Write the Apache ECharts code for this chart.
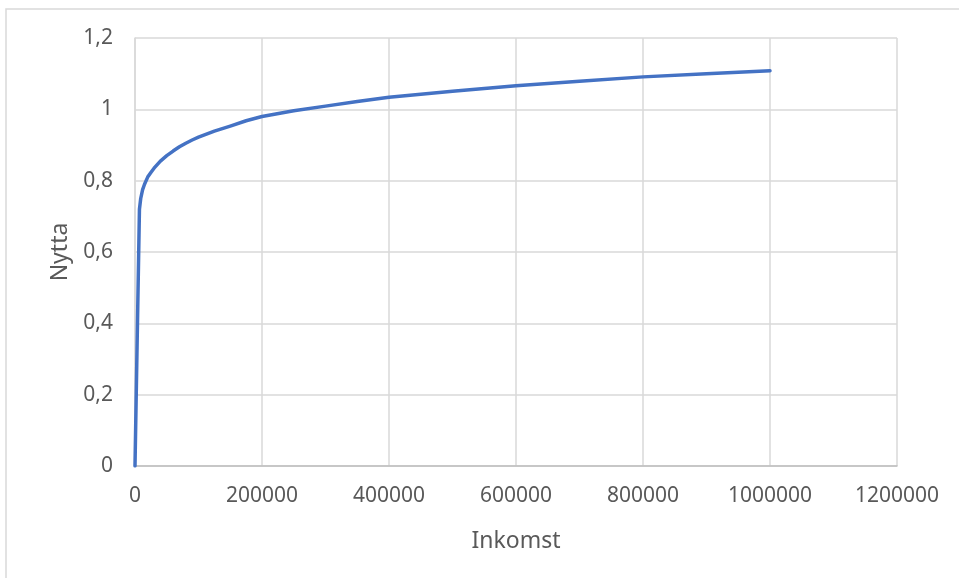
<!DOCTYPE html>
<html>
<head>
<meta charset="utf-8">
<script src="https://cdn.jsdelivr.net/npm/echarts@6/dist/echarts.min.js"></script>
<style>
  html, body { margin: 0; padding: 0; background: #ffffff; }
  #chart { width: 959px; height: 578px; }
</style>
</head>
<body>
<div id="chart"></div>
<script>
// Inkomst (income) and Nytta (utility) pairs for the utility curve
const inkomst = [0, 7000, 9000, 12000, 15000, 20000, 25000, 30000, 40000, 50000, 60000, 70000, 80000,
  90000, 100000, 125000, 150000, 175000, 200000, 250000, 300000, 350000, 400000, 500000,
  600000, 700000, 800000, 900000, 1000000];
const nytta = [0, 0.72, 0.75, 0.775, 0.79, 0.81, 0.823, 0.835, 0.855, 0.87, 0.883, 0.895, 0.905,
  0.914, 0.922, 0.939, 0.953, 0.968, 0.98, 0.996, 1.009, 1.022, 1.034, 1.051,
  1.066, 1.079, 1.091, 1.1, 1.108];

const xTicks = { min: 0, max: 1200000, step: 200000 };
const yTicks = { min: 0, max: 1.2, step: 0.2 };

const points = inkomst.map((x, i) => [x, nytta[i]]);

const gridColor = '#d9d9d9';
const textColor = '#595959';
const font = 'Noto Sans';

const chart = echarts.init(document.getElementById('chart'), null, { renderer: 'canvas' });
chart.setOption({
  backgroundColor: '#ffffff',
  animation: false,
  graphic: [{
    type: 'rect',
    shape: { x: 6, y: 9, width: 1000, height: 1000 },
    style: { fill: 'none', stroke: gridColor, lineWidth: 1.5 },
    silent: true
  }],
  grid: { left: 135, right: 62, top: 38, bottom: 112, containLabel: false },
  xAxis: {
    type: 'value',
    min: xTicks.min, max: xTicks.max, interval: xTicks.step,
    name: 'Inkomst',
    nameLocation: 'middle',
    nameGap: 64,
    nameTextStyle: { color: textColor, fontFamily: font, fontSize: 23 },
    axisLine: { show: true, lineStyle: { color: '#bfbfbf', width: 1.5 } },
    axisTick: { show: false },
    axisLabel: { color: textColor, fontFamily: font, fontSize: 21, margin: 20,
      formatter: v => String(v) },
    splitLine: { show: true, lineStyle: { color: gridColor, width: 1.5 } }
  },
  yAxis: {
    type: 'value',
    min: yTicks.min, max: yTicks.max, interval: yTicks.step,
    name: 'Nytta',
    nameLocation: 'middle',
    nameGap: 62,
    nameRotate: 90,
    nameTextStyle: { color: textColor, fontFamily: font, fontSize: 23 },
    axisLine: { show: true, lineStyle: { color: gridColor, width: 1.5 } },
    axisTick: { show: false },
    axisLabel: { color: textColor, fontFamily: font, fontSize: 21, margin: 22,
      formatter: v => String(Math.round(v * 10) / 10).replace('.', ',') },
    splitLine: { show: true, lineStyle: { color: gridColor, width: 1.5 } }
  },
  series: [{
    type: 'line',
    data: points,
    showSymbol: false,
    smooth: false,
    lineStyle: { color: '#4472c4', width: 3.5, cap: 'round', join: 'round' },
    itemStyle: { color: '#4472c4' }
  }]
});
</script>
</body>
</html>
